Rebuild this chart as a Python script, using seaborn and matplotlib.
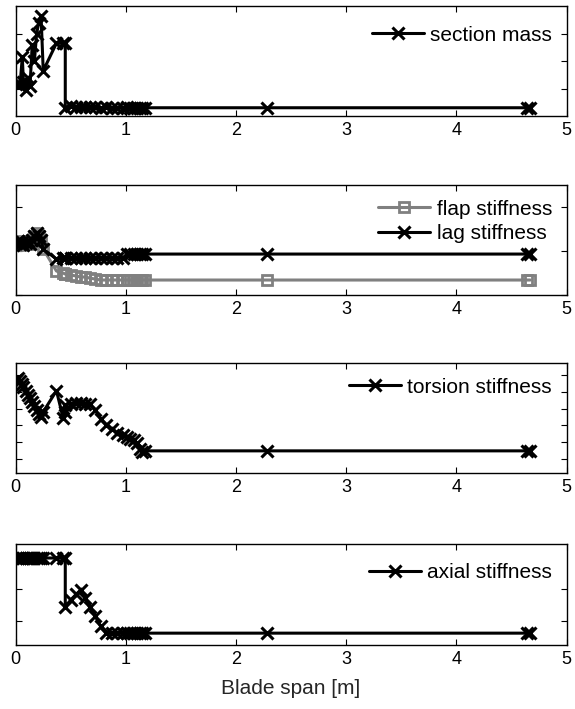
import matplotlib
matplotlib.use('Agg')
import matplotlib.pyplot as plt
import seaborn as sns
import pandas as pd

# Posições ao longo da pá [m]
span = [0.00, 0.02, 0.04, 0.06, 0.07, 0.09, 0.11, 0.13, 0.15, 0.17, 0.19, 0.21, 0.23,
        0.25, 0.37, 0.43, 0.45, 0.45, 0.50, 0.55, 0.59, 0.63, 0.67, 0.72, 0.77, 0.82,
        0.87, 0.92, 0.97, 1.01, 1.04, 1.07, 1.10, 1.13, 1.15, 1.17, 2.28, 4.64, 4.67]

# Valores (escala arbitrária, eixos sem rótulo)
section_mass = [1.15, 1.15, 1.15, 2.15, 1.25, 0.95, 1.4, 1.1, 2.6, 2.0, 3.0, 3.4, 3.65,
                1.65, 2.65, 2.65, 2.65, 0.3, 0.35, 0.33, 0.32, 0.34, 0.31, 0.32, 0.3, 0.31,
                0.3, 0.3, 0.3, 0.31, 0.3, 0.3, 0.3, 0.3, 0.3, 0.3, 0.3, 0.3, 0.3]

flap_stiffness = [23100, 28500, 20800, 25700, 18700, 23100, 28500, 20800, 31600, 48100, 65800,
                  48100, 31600, 12300, 1230, 1000, 900, 900, 811, 731, 658, 658, 593, 534,
                  481, 481, 481, 481, 481, 481, 481, 481, 481, 481, 481, 481, 481, 481, 481]

lag_stiffness = [23100, 28500, 20800, 25700, 18700, 23100, 28500, 20800, 31600, 48100, 65800,
                 48100, 31600, 12300, 4330, 4800, 4800, 4800, 4800, 4800, 4800, 4800, 4800, 4800,
                 4800, 4800, 4800, 4800, 4800, 7300, 7300, 7300, 7300, 7300, 7300, 7300, 7300,
                 7300, 7300]

torsion_stiffness = [5.73, 5.85, 5.67, 5.49, 5.31, 5.07, 4.83, 4.65, 4.41, 4.17, 3.93, 3.69,
                     3.51, 3.81, 5.07, 3.46, 3.81, 4.23, 4.29, 4.35, 4.35, 4.29, 4.29, 3.93,
                     3.40, 3.04, 2.80, 2.56, 2.44, 2.32, 2.20, 2.14, 1.96, 1.60, 1.42, 1.48,
                     1.48, 1.48, 1.48]

axial_stiffness = [2.97, 2.97, 2.97, 2.97, 2.97, 2.97, 2.97, 2.97, 2.97, 2.97, 2.97, 2.97,
                   2.97, 2.97, 2.97, 2.97, 2.97, 1.45, 1.66, 1.84, 1.97, 1.72, 1.44, 1.16,
                   0.84, 0.62, 0.62, 0.62, 0.62, 0.62, 0.62, 0.62, 0.62, 0.62, 0.62, 0.62,
                   0.62, 0.62, 0.62]

df = pd.DataFrame({'span': span, 'mass': section_mass, 'flap': flap_stiffness,
                   'lag': lag_stiffness, 'torsion': torsion_stiffness,
                   'axial': axial_stiffness})

sns.set_style('ticks', {'axes.edgecolor': 'black', 'text.color': 'black',
                        'xtick.color': 'black', 'ytick.color': 'black'})
plt.rcParams['font.family'] = ['Liberation Sans', 'DejaVu Sans']
plt.rcParams['xtick.direction'] = 'in'
plt.rcParams['ytick.direction'] = 'in'

fig = plt.figure(figsize=(5.75, 7.09), dpi=100)

# posições dos quatro painéis (em fração da figura)
left, width = 0.0273, 0.958
boxes = [(0.8364, 0.155), (0.5839, 0.155), (0.3329, 0.155), (0.0903, 0.1425)]
axes = [fig.add_axes([left, b, width, h]) for b, h in boxes]

line_kw = dict(color='black', linewidth=2.2, marker='x', markersize=8,
               markeredgewidth=2.2, markeredgecolor='black', estimator=None, sort=False)

sns.lineplot(x='span', y='mass', data=df, ax=axes[0], label='section mass', **line_kw)
axes[0].set_ylim(0, 4)
axes[0].set_yticks([1, 2, 3])

sns.lineplot(x='span', y='flap', data=df, ax=axes[1], label='flap stiffness',
             color='#808080', linewidth=2.2, marker='s', markersize=7,
             markerfacecolor='none', markeredgecolor='#808080', markeredgewidth=2,
             estimator=None, sort=False)
sns.lineplot(x='span', y='lag', data=df, ax=axes[1], label='lag stiffness', **line_kw)
axes[1].set_yscale('log')
axes[1].set_ylim(1e2, 1e7)

sns.lineplot(x='span', y='torsion', data=df, ax=axes[2], label='torsion stiffness', **line_kw)
axes[2].set_ylim(0.16, 6.72)
axes[2].set_yticks([1, 2, 3, 4, 5, 6])

sns.lineplot(x='span', y='axial', data=df, ax=axes[3], label='axial stiffness', **line_kw)
axes[3].set_ylim(0.25, 3.41)
axes[3].set_yticks([1, 2])

# deslocamento vertical da legenda em cada painel
legend_y = [0.955, 1.0, 1.0, 0.955]

for ax, ly in zip(axes, legend_y):
    ax.set_xlim(0, 5)
    ax.set_xticks([0, 1, 2, 3, 4, 5])
    ax.tick_params(axis='both', which='both', top=True, right=True, length=4,
                   width=0.8, labelsize=13, pad=4)
    ax.tick_params(axis='y', which='minor', length=2)
    ax.set_yticklabels([], minor=False)
    ax.yaxis.set_minor_formatter(plt.NullFormatter())
    ax.set_xlabel('')
    ax.set_ylabel('')
    for s in ax.spines.values():
        s.set_linewidth(1.0)
    ax.legend(loc='upper right', bbox_to_anchor=(1.0, ly), frameon=False, fontsize=15,
              handlelength=2.5, handletextpad=0.3, labelspacing=0.25,
              borderaxespad=0.3, numpoints=1)

axes[3].set_xlabel('Blade span [m]', fontsize=15, labelpad=8)

fig.savefig('out.png', dpi=100)
